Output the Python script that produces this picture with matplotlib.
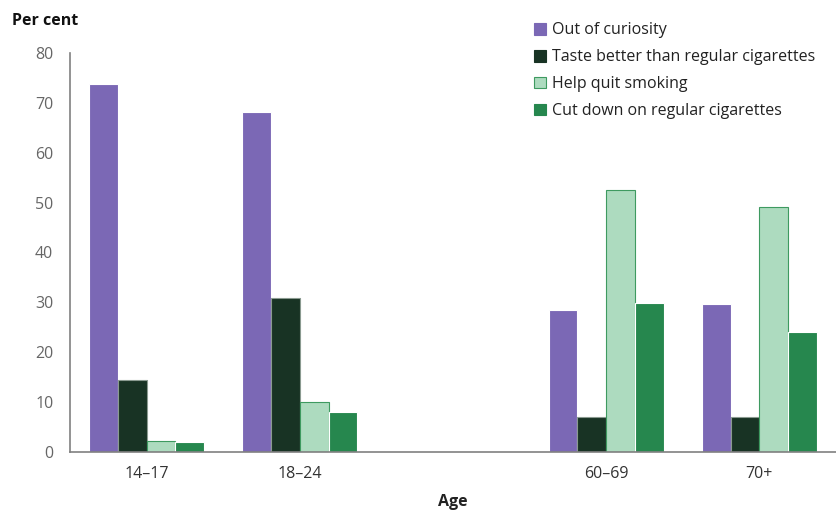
import matplotlib
matplotlib.use("Agg")
import matplotlib.pyplot as plt
import numpy as np
from matplotlib.patches import Patch

plt.rcParams['font.family'] = ['Open Sans', 'DejaVu Sans']

categories = ["14–17", "18–24", "", "60–69", "70+"]
series_names = ["Out of curiosity", "Taste better than regular cigarettes",
                "Help quit smoking", "Cut down on regular cigarettes"]
curiosity = [73.7, 68.1, np.nan, 28.4, 29.7]
taste = [14.4, 30.8, np.nan, 7.0, 7.0]
help_quit = [2.3, 10.0, np.nan, 52.5, 49.1]
cut_down = [2.0, 8.0, np.nan, 29.9, 24.0]
yticks = [0, 10, 20, 30, 40, 50, 60, 70, 80]

colors = ["#7B68B5", "#183324", "#ADDBBF", "#26874E"]
edges = ["#FFFFFF", "#8A9A90", "#3E9A60", "#FFFFFF"]

fig = plt.figure(figsize=(8.36, 5.11), dpi=100)
ax = fig.add_axes([70/836, 1-452/511, 1-70/836, (452-53)/511])

x = np.arange(len(categories))
w = 0.188
data = [curiosity, taste, help_quit, cut_down]
for i, (vals, c, e) in enumerate(zip(data, colors, edges)):
    ax.bar(x + (i - 1.5) * w, vals, width=w, color=c, edgecolor=e, linewidth=0.8, zorder=2)

ax.set_xlim(-0.5, 4.5)
ax.set_ylim(0, 80)
ax.set_yticks(yticks)
ax.set_xticks(x)
ax.set_xticklabels(categories)
ax.tick_params(axis='both', length=0, labelsize=11.5)
ax.tick_params(axis='y', colors='#666666', pad=12)
ax.tick_params(axis='x', colors='#333333', pad=10)
for s in ['top', 'right']:
    ax.spines[s].set_visible(False)
for s in ['left', 'bottom']:
    ax.spines[s].set_color('#808080')
    ax.spines[s].set_linewidth(1.2)

ax.set_xlabel("Age", fontsize=11.5, fontweight='bold', color='#222222', labelpad=9)
fig.text(12/836, 1-21/511, "Per cent", fontsize=11.5, fontweight='bold', color='#111111',
         va='center', ha='left')

handles = [Patch(facecolor=c, edgecolor=e if i == 2 else c, linewidth=0.8)
           for i, (c, e) in enumerate(zip(colors, edges))]
leg = fig.legend(handles, series_names, loc='upper left', bbox_to_anchor=(528/836, 1-16/511),
                 frameon=False, fontsize=11.5, handlelength=0.75, handleheight=0.75,
                 handletextpad=0.35, labelspacing=0.68, borderaxespad=0)
for t in leg.get_texts():
    t.set_color('#222222')

fig.savefig("out.png", dpi=100)
